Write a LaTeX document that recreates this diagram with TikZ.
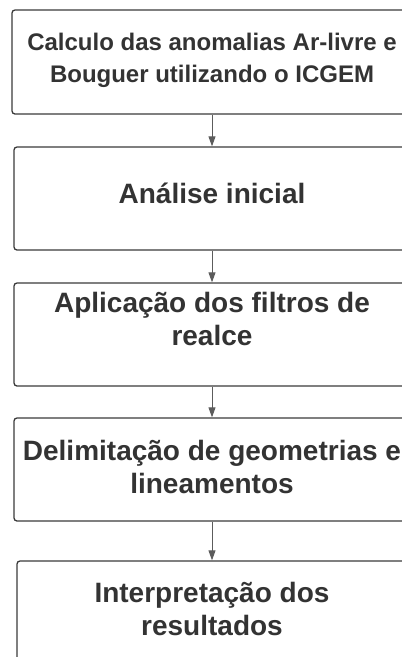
\documentclass[tikz,border=0pt]{standalone}
\usepackage{fontspec}
\setmainfont{Liberation Sans}
\usepackage{tikz}
\usetikzlibrary{arrows.meta}
\definecolor{boxline}{HTML}{3A3A3A}
\definecolor{boxtext}{HTML}{333333}
\definecolor{arrowline}{HTML}{5C5C5C}

\begin{document}
\begin{tikzpicture}[x=1pt, y=-1pt,
	stage/.style={rectangle, draw=boxline, line width=1.3pt, rounded corners=3pt, minimum height=103pt, inner sep=0pt},
	stagetext/.style={anchor=base, align=center, inner sep=0pt, text=boxtext, font=\bfseries\fontsize{28}{33}\selectfont},
	flow/.style={draw=arrowline, line width=1pt, -{Triangle[length=10pt, width=7pt]}}]
	\useasboundingbox (0,0) rectangle (402,657);
	\clip (0,0) rectangle (402,657);
	\node (1) at (212,62) [stage, minimum width=400pt, minimum height=104pt] {};
		\node (t1) at (212,82) [stagetext, font=\bfseries\fontsize{24}{32}\selectfont] {Calculo das anomalias Ar-livre e\\Bouguer utilizando o ICGEM};
	\node (2) at (212,198.5) [stage, minimum width=396pt] {};
		\node (t2) at (212,203) [stagetext] {Análise inicial};
	\node (3) at (212,334.5) [stage, minimum width=396pt] {};
		\node (t3) at (212,345) [stagetext] {Aplicação dos filtros de\\realce};
	\node (4) at (212,469.5) [stage, minimum width=396pt] {};
		\node (t4) at (212,493) [stagetext] {Delimitação de geometrias e\\lineamentos};
	\node (5) at (212,612.5) [stage, minimum width=390pt] {};
		\node (t5) at (212,635) [stagetext] {Interpretação dos\\resultados};
	\draw[flow] (1) -- (2);
	\draw[flow] (2) -- (3);
	\draw[flow] (3) -- (4);
	\draw[flow] (4) -- (5);
\end{tikzpicture}
\end{document}
